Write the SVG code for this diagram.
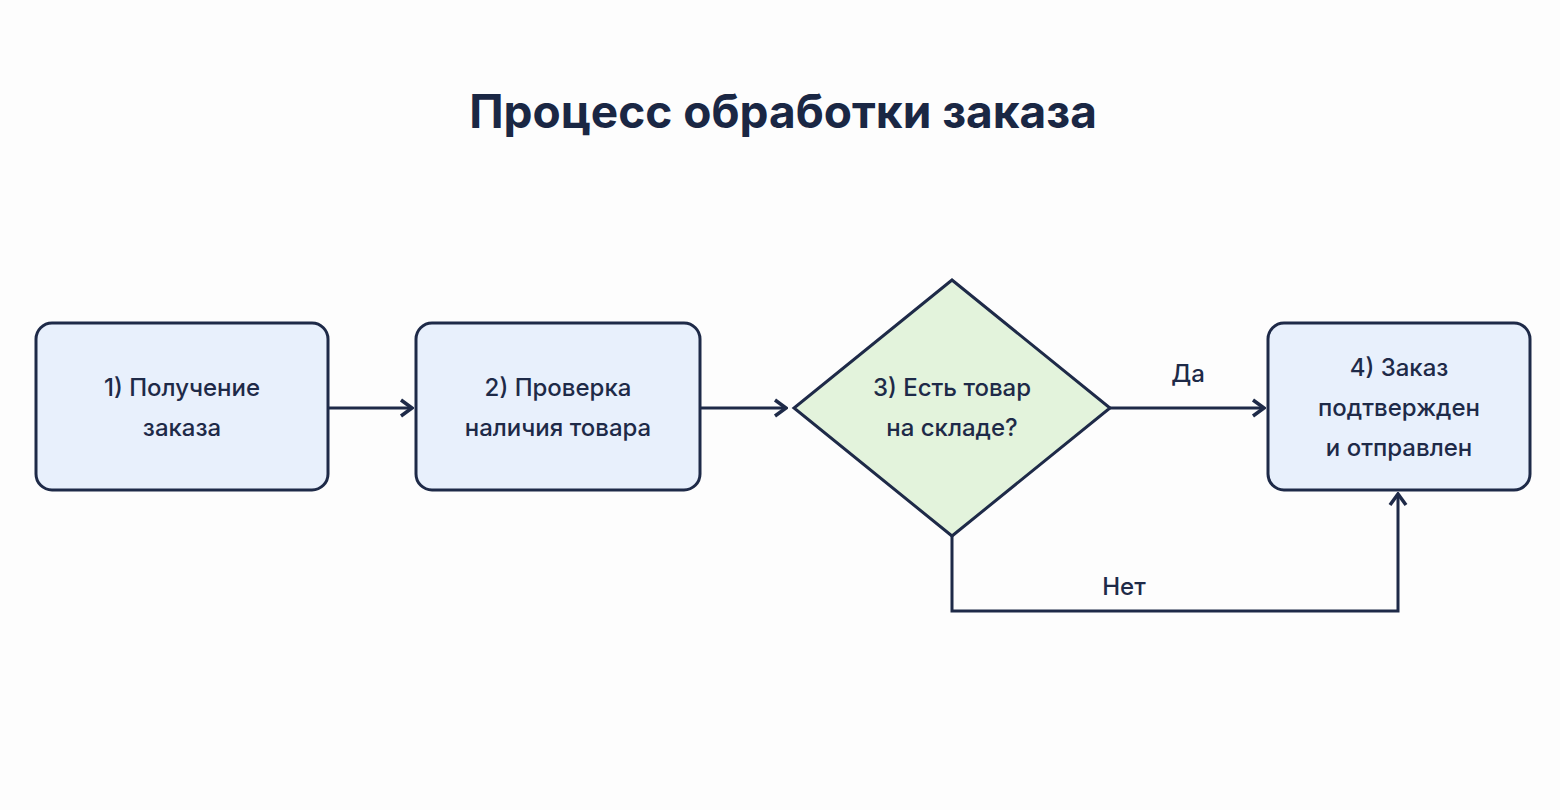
<svg xmlns="http://www.w3.org/2000/svg" width="1560" height="810" viewBox="0 0 1560 810">
<style>
.box{fill:#e8f0fc;stroke:#1e2a48;stroke-width:3}
.dia{fill:#e3f3dc;stroke:#1e2a48;stroke-width:3}
.t{font-family:Inter,"Liberation Sans",sans-serif;font-size:24px;font-weight:500;fill:#1e2a48;text-anchor:middle}
.c{fill:none;stroke:#1e2a48;stroke-width:3}
</style>
<defs><marker id="a" viewBox="0 0 16 20" refX="14" refY="10" markerWidth="16" markerHeight="20" orient="auto" markerUnits="userSpaceOnUse"><path d="M3,2 L14,10 L3,18" fill="none" stroke="#1e2a48" stroke-width="3.5"/></marker></defs>
<rect width="1560" height="810" fill="#fdfdfd"/>
<text x="783" y="128" font-family="Inter,'Liberation Sans',sans-serif" font-size="46" font-weight="bold" fill="#1a2744" text-anchor="middle">Процесс обработки заказа</text>
<g id="n1"><rect class="box" x="36" y="323" width="292" height="167" rx="16"/><text class="t" x="182" y="396">1) Получение</text><text class="t" x="182" y="436">заказа</text></g>
<g id="n2"><rect class="box" x="416" y="323" width="284" height="167" rx="16"/><text class="t" x="558" y="396">2) Проверка</text><text class="t" x="558" y="436">наличия товара</text></g>
<g id="n3"><polygon class="dia" points="952,280 1110,408 952,536 794,408"/><text class="t" x="952" y="396">3) Есть товар</text><text class="t" x="952" y="436">на складе?</text></g>
<g id="n4"><rect class="box" x="1268" y="323" width="262" height="167" rx="16"/><text class="t" x="1399" y="376">4) Заказ</text><text class="t" x="1399" y="416">подтвержден</text><text class="t" x="1399" y="456">и отправлен</text></g>
<g id="connectors">
<path class="c" d="M328,408 H412" marker-end="url(#a)"/>
<path class="c" d="M700,408 H786" marker-end="url(#a)"/>
<path class="c" d="M1110,408 H1264" marker-end="url(#a)"/>
<path class="c" d="M952,536 V611 H1398 V494" marker-end="url(#a)"/>
<text class="t" x="1188" y="382">Да</text>
<text class="t" x="1124" y="595">Нет</text>
</g>
</svg>
